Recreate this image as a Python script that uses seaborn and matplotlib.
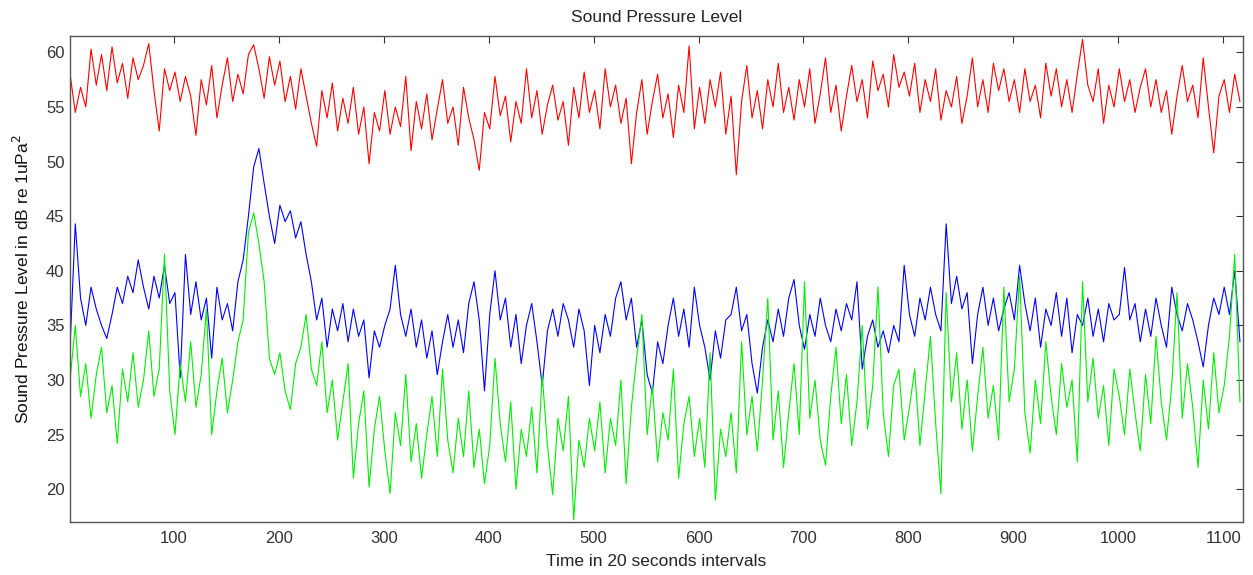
import numpy as np
import pandas as pd
import matplotlib
matplotlib.use("Agg")
import matplotlib.pyplot as plt
import seaborn as sns

# time index (20 second intervals), one reading every 5 intervals
time_step = 5
time_start = 1

red_level = [
    58.0, 54.5, 56.8, 55.0, 60.3, 57.0, 59.8, 56.5, 60.5, 57.2, 59.0, 55.8, 59.5, 57.5, 58.8, 60.8, 56.5, 52.8, 58.5, 56.5,
    58.2, 55.5, 57.8, 56.0, 52.4, 57.5, 55.2, 58.8, 54.0, 57.0, 59.5, 55.5, 58.0, 56.2, 59.8, 60.7, 58.5, 55.8, 59.6, 57.0,
    59.2, 55.5, 57.8, 54.8, 58.5, 56.0, 53.5, 51.4, 56.5, 54.0, 57.2, 52.8, 55.8, 53.5, 56.8, 52.5, 55.0, 49.8, 54.5, 52.8,
    56.5, 52.5, 55.0, 53.2, 57.8, 51.0, 55.5, 53.0, 56.2, 52.0, 54.8, 57.5, 53.5, 55.0, 51.5, 56.8, 54.0, 52.0, 49.2, 54.5,
    53.0, 57.8, 54.2, 56.0, 51.8, 55.5, 53.5, 58.5, 54.0, 56.5, 52.5, 55.2, 57.0, 53.8, 55.5, 51.5, 56.8, 54.0, 58.2, 54.5,
    56.5, 53.0, 58.5, 55.0, 57.0, 53.5, 55.8, 49.8, 54.5, 57.5, 52.5, 55.5, 58.0, 54.0, 56.2, 52.2, 57.0, 54.5, 60.6, 53.0,
    56.8, 53.5, 57.5, 55.0, 58.2, 52.5, 56.0, 48.8, 55.5, 58.8, 54.0, 56.5, 53.0, 57.5, 55.0, 59.0, 54.5, 56.8, 53.8, 57.5,
    55.0, 58.5, 53.5, 56.2, 59.5, 54.5, 57.0, 52.8, 56.0, 58.8, 55.5, 57.5, 54.0, 59.2, 56.5, 58.0, 55.0, 59.8, 56.8, 58.2,
    56.0, 59.0, 54.5, 57.5, 55.5, 58.5, 53.8, 56.5, 55.0, 57.8, 53.5, 56.0, 59.5, 55.0, 57.5, 54.5, 59.0, 56.5, 58.5, 55.5,
    57.5, 54.5, 58.5, 55.5, 57.0, 54.0, 59.0, 56.0, 58.5, 55.0, 57.5, 54.5, 58.0, 61.2, 57.0, 55.5, 58.5, 53.5, 57.0, 55.0,
    58.5, 55.5, 57.5, 54.5, 56.8, 58.5, 55.0, 57.5, 54.5, 56.5, 52.5, 56.0, 58.8, 55.5, 57.0, 54.0, 59.5, 55.0, 50.8, 56.0,
    57.5, 54.5, 58.0, 55.5,
]

blue_level = [
    33.0, 44.3, 37.5, 35.0, 38.5, 36.5, 35.0, 33.8, 36.0, 38.5, 37.0, 39.5, 38.0, 41.0, 38.5, 36.5, 39.5, 37.5, 40.5, 37.0,
    38.0, 30.2, 41.5, 36.0, 39.0, 35.5, 37.5, 32.0, 38.5, 35.5, 37.0, 34.5, 39.0, 41.0, 45.0, 49.5, 51.2, 48.0, 45.0, 42.5,
    46.0, 44.5, 45.5, 43.0, 44.5, 41.5, 39.0, 35.5, 37.5, 33.0, 36.5, 34.5, 37.0, 33.5, 36.5, 34.0, 35.5, 30.2, 34.5, 33.0,
    35.0, 36.5, 40.5, 36.0, 34.0, 36.5, 33.0, 35.5, 32.0, 34.5, 30.5, 33.5, 36.0, 33.0, 35.5, 32.5, 37.0, 39.0, 35.5, 29.0,
    36.0, 40.0, 35.5, 37.5, 33.0, 36.0, 31.5, 35.0, 37.0, 33.5, 29.5, 34.5, 36.5, 34.0, 37.0, 35.5, 33.0, 36.5, 34.5, 29.5,
    35.0, 32.5, 36.0, 34.0, 37.5, 39.0, 35.5, 37.5, 33.0, 35.5, 30.5, 28.8, 33.5, 31.5, 35.0, 37.5, 34.0, 36.5, 33.0, 38.5,
    35.0, 33.0, 30.0, 34.5, 32.0, 35.5, 36.0, 38.5, 34.5, 36.0, 31.5, 28.8, 33.0, 35.5, 33.5, 36.5, 34.0, 37.5, 39.2, 35.0,
    32.8, 36.0, 34.0, 37.5, 35.0, 33.5, 36.5, 34.5, 37.0, 35.5, 39.0, 31.0, 34.0, 35.5, 33.0, 34.5, 32.5, 35.0, 33.5, 40.5,
    36.0, 34.0, 37.5, 35.5, 38.5, 36.0, 34.5, 44.3, 37.0, 39.5, 36.5, 38.0, 31.5, 36.0, 38.5, 35.0, 37.5, 34.5, 36.5, 38.0,
    35.5, 40.5, 37.0, 34.5, 37.5, 33.0, 36.5, 35.0, 38.0, 34.0, 37.5, 32.5, 36.0, 35.0, 37.5, 34.0, 36.5, 33.5, 37.0, 35.5,
    36.0, 40.3, 35.5, 37.0, 33.5, 36.5, 34.0, 37.5, 35.0, 33.0, 38.5, 36.0, 34.5, 37.0, 35.5, 33.5, 31.2, 35.0, 37.5, 36.0,
    38.5, 36.0, 40.0, 33.5,
]

green_level = [
    30.0, 35.0, 28.5, 31.5, 26.5, 30.5, 33.0, 27.0, 29.5, 24.2, 31.0, 28.0, 32.5, 27.5, 30.0, 34.5, 28.5, 31.0, 41.5, 29.0,
    25.0, 31.5, 28.0, 33.5, 27.5, 30.5, 36.5, 25.0, 29.0, 32.0, 27.0, 30.0, 33.5, 35.5, 43.5, 45.3, 42.5, 39.0, 32.0, 30.5,
    32.5, 29.0, 27.3, 31.5, 33.0, 36.0, 31.0, 29.5, 33.5, 27.0, 30.0, 24.5, 28.0, 31.5, 21.0, 26.0, 29.0, 20.2, 25.5, 28.5,
    23.5, 19.6, 27.0, 24.0, 30.5, 22.5, 26.0, 21.0, 25.0, 28.5, 23.0, 31.0, 24.5, 21.5, 26.5, 23.0, 29.0, 22.0, 25.5, 20.5,
    24.0, 32.0, 26.0, 22.5, 28.0, 20.0, 25.5, 23.0, 27.5, 21.5, 30.5, 24.0, 19.5, 26.5, 23.5, 28.5, 17.2, 24.5, 22.0, 26.5,
    23.5, 28.0, 21.5, 26.5, 24.0, 30.0, 20.5, 27.5, 32.0, 36.0, 25.0, 29.5, 22.5, 27.0, 24.5, 31.0, 21.0, 26.0, 28.5, 23.0,
    26.5, 22.0, 32.5, 19.0, 25.5, 23.0, 27.0, 21.5, 33.5, 25.0, 28.5, 23.5, 30.0, 37.5, 24.5, 29.0, 22.0, 27.0, 31.5, 25.0,
    39.0, 26.5, 30.0, 24.5, 22.2, 28.5, 33.0, 26.0, 30.5, 24.0, 28.0, 35.0, 25.5, 29.5, 38.5, 27.0, 23.0, 29.5, 31.0, 24.5,
    27.5, 31.0, 24.0, 29.0, 34.0, 26.0, 19.6, 38.0, 28.0, 32.5, 25.5, 30.0, 23.5, 28.5, 33.0, 26.5, 29.5, 24.5, 38.5, 28.0,
    31.0, 39.5, 27.0, 23.3, 30.0, 26.0, 33.5, 28.5, 25.0, 31.5, 27.5, 30.0, 22.5, 39.0, 28.0, 32.0, 26.5, 29.5, 24.0, 31.0,
    28.5, 25.0, 31.0, 27.0, 23.5, 30.5, 26.0, 34.0, 28.0, 24.5, 29.5, 38.0, 26.5, 31.5, 27.5, 22.0, 30.0, 25.5, 32.5, 27.0,
    29.5, 34.0, 41.5, 28.0,
]

series_names = ["red", "blue", "green"]
series_colors = {"red": "#ff0000", "blue": "#0000ff", "green": "#00ee00"}

time = np.arange(len(red_level)) * time_step + time_start

frames = []
for name, vals in zip(series_names, [red_level, blue_level, green_level]):
    frames.append(pd.DataFrame({"time": time, "spl": vals, "series": name}))
df = pd.concat(frames, ignore_index=True)

sns.set_style("white")
plt.rcParams["font.family"] = ["Liberation Sans", "DejaVu Sans"]

fig = plt.figure(figsize=(12.53, 5.75), dpi=100)
ax = fig.add_axes([0.0559, 0.0922, 0.9362, 0.8452])

sns.lineplot(data=df, x="time", y="spl", hue="series", hue_order=series_names,
             palette=series_colors, linewidth=0.8, legend=False, ax=ax,
             estimator=None, sort=False)

ax.set_xlim(1, 1119)
ax.set_ylim(17, 61.5)
ax.set_xticks(np.arange(100, 1101, 100))
ax.set_yticks(np.arange(20, 61, 5))
ax.tick_params(direction="in", length=5, width=0.8, top=True, right=True,
               labelsize=12, colors="#333333", labelcolor="#333333")
ax.tick_params(axis="x", pad=6.5)
ax.tick_params(axis="y", pad=4)
for s in ax.spines.values():
    s.set_color("#555555")
    s.set_linewidth(1.0)

ax.set_title("Sound Pressure Level", fontsize=12.5, color="#222222", pad=10)
ax.set_xlabel("Time in 20 seconds intervals", fontsize=12.5, color="#222222", labelpad=6)
ax.set_ylabel("Sound Pressure Level in dB re 1uPa$^2$", fontsize=12.5, color="#111111", labelpad=10)

fig.savefig("out.png", dpi=100)
